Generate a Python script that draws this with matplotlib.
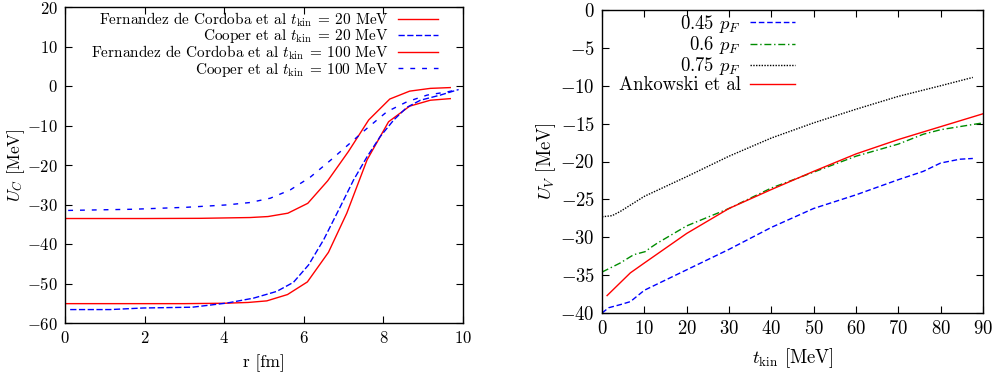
import matplotlib
matplotlib.use("Agg")
import matplotlib.pyplot as plt

plt.rcParams['font.family'] = ['cmr10', 'DejaVu Serif']
plt.rcParams['mathtext.fontset'] = 'cm'
plt.rcParams['axes.formatter.use_mathtext'] = True
plt.rcParams['font.size'] = 12
plt.rcParams['axes.unicode_minus'] = True

# ---------------- Left panel data: U_C vs r ----------------
r_fdc20 = [0.0, 1.0, 2.0, 3.0, 4.0, 4.6, 5.07, 5.59, 6.09, 6.62, 7.08, 7.59, 8.13, 8.66, 9.18, 9.68]
u_fdc20 = [-55.1, -55.1, -55.1, -55.1, -55.0, -54.8, -54.4, -52.8, -49.6, -42.1, -32.2, -18.7, -9.05, -5.1, -3.6, -3.2]

r_coop20 = [0.13, 1.13, 1.97, 3.2, 4.07, 4.74, 5.32, 5.74, 6.12, 6.5, 6.92, 7.25, 7.59, 7.92, 8.26, 8.59, 8.93, 9.43, 9.89]
u_coop20 = [-56.6, -56.6, -56.2, -56.0, -54.95, -53.7, -52.0, -49.7, -45.3, -38.9, -30.5, -23.8, -17.9, -12.8, -8.6, -5.4, -3.6, -2.3, -0.9]

r_fdc100 = [0.0, 1.0, 2.0, 3.4, 4.65, 5.1, 5.6, 6.1, 6.6, 7.12, 7.63, 8.16, 8.66, 9.18, 9.68]
u_fdc100 = [-33.55, -33.55, -33.55, -33.5, -33.3, -33.05, -32.2, -29.7, -24.0, -16.6, -8.6, -3.3, -1.3, -0.6, -0.4]

r_coop100 = [0.08, 1.72, 3.06, 4.07, 4.65, 5.16, 5.66, 6.16, 6.66, 7.08, 7.59, 8.09, 8.59, 9.1, 9.6, 9.89]
u_coop100 = [-31.5, -31.2, -30.7, -30.1, -29.5, -28.4, -26.3, -23.1, -18.9, -15.2, -10.7, -6.5, -4.0, -2.3, -1.5, -0.9]

left_labels = [r'Fernandez de Cordoba et al $t_{\rm kin}\:=\:20$ MeV',
               r'Cooper et al $t_{\rm kin}\:=\:20$ MeV',
               r'Fernandez de Cordoba et al $t_{\rm kin}\:=\:100$ MeV',
               r'Cooper et al $t_{\rm kin}\:=\:100$ MeV']

# ---------------- Right panel data: U_V vs t_kin ----------------
t_045 = [0, 1.6, 4.3, 6.7, 10, 20, 30, 40, 50, 60, 70, 75.9, 80, 84.5, 87.6]
u_045 = [-40.0, -39.3, -38.9, -38.5, -37.0, -34.3, -31.6, -28.7, -26.2, -24.4, -22.4, -21.3, -20.2, -19.7, -19.6]

t_06 = [0, 4.3, 7.5, 10.2, 11.4, 13, 20, 30, 40, 50, 60, 70, 75.9, 80, 90]
u_06 = [-34.6, -33.4, -32.3, -31.9, -31.4, -30.8, -28.5, -26.2, -23.5, -21.4, -19.3, -17.7, -16.4, -15.8, -14.9]

t_075 = [0, 2.4, 4.3, 10, 20, 30, 40, 50, 60, 70, 80, 87.6]
u_075 = [-27.3, -27.15, -26.6, -24.6, -22.0, -19.3, -16.9, -14.9, -13.1, -11.4, -10.0, -8.9]

t_ank = [1.2, 6.7, 10, 20, 30, 40, 50, 60, 70, 80, 90]
u_ank = [-37.7, -34.7, -33.4, -29.5, -26.2, -23.7, -21.3, -19.0, -17.1, -15.4, -13.7]

right_labels = [r'0.45 $p_F$', r'0.6 $p_F$', r'0.75 $p_F$', 'Ankowski et al']

red = '#ff0000'
blue = '#0000ff'
green = '#008c00'

fig = plt.figure(figsize=(9.95, 3.76), dpi=100)
ax1 = fig.add_axes([65/995, 1 - 323/376, 398/995, 316/376])
ax2 = fig.add_axes([602/995, 1 - 313/376, 381/995, 303/376])

lw = 1.0
ax1.plot(r_fdc20, u_fdc20, color=red, lw=lw, label=left_labels[0])
ax1.plot(r_coop20, u_coop20, color=blue, lw=lw, dashes=(4.5, 1.8), label=left_labels[1])
ax1.plot(r_fdc100, u_fdc100, color=red, lw=lw, label=left_labels[2])
ax1.plot(r_coop100, u_coop100, color=blue, lw=lw, dashes=(3.5, 5.0), label=left_labels[3])
ax1.set_xlim(0, 10)
ax1.set_ylim(-60, 20)
ax1.set_xticks(range(0, 11, 2))
ax1.set_yticks(range(-60, 21, 10))
ax1.set_xlabel('r [fm]', fontsize=12.5)
ax1.set_ylabel(r'$U_C$ [MeV]', fontsize=12.5)
ax1.xaxis.set_label_coords(0.5, -0.127, transform=ax1.transAxes)
ax1.yaxis.set_label_coords(-0.122, 0.5, transform=ax1.transAxes)
ax1.xaxis.label.set_va('center')
ax1.yaxis.label.set_va('center')

ax2.plot(t_045, u_045, color=blue, lw=lw, dashes=(4, 2), label=right_labels[0])
ax2.plot(t_06, u_06, color=green, lw=lw, dashes=(5, 2, 1, 2), label=right_labels[1])
ax2.plot(t_075, u_075, color='black', lw=lw, dashes=(1, 1), label=right_labels[2])
ax2.plot(t_ank, u_ank, color=red, lw=lw, label=right_labels[3])
ax2.set_xlim(0, 90)
ax2.set_ylim(-40, 0)
ax2.set_xticks(range(0, 91, 10))
ax2.set_yticks(range(-40, 1, 5))
ax2.set_xlabel(r'$t_{\rm kin}$ [MeV]', fontsize=13.5)
ax2.set_ylabel(r'$U_V$ [MeV]', fontsize=13.5)
ax2.xaxis.set_label_coords(0.5, -0.15, transform=ax2.transAxes)
ax2.yaxis.set_label_coords(-0.147, 0.5, transform=ax2.transAxes)
ax2.xaxis.label.set_va('center')
ax2.yaxis.label.set_va('center')

ax1.tick_params(direction='in', top=True, right=True, length=5, width=0.8,
                labelsize=12, pad=5)
ax2.tick_params(direction='in', top=True, right=True, length=5, width=0.8,
                labelsize=13.5, pad=5)
for ax in (ax1, ax2):
    for s in ax.spines.values():
        s.set_linewidth(1.0)

leg1 = ax1.legend(loc='upper right', bbox_to_anchor=(0.937, 0.99), frameon=False,
                  markerfirst=False, handlelength=2.6, handletextpad=0.6,
                  labelspacing=-0.1, borderaxespad=0.0, borderpad=0.0,
                  fontsize=11)
leg2 = ax2.legend(loc='upper right', bbox_to_anchor=(0.507, 0.99), frameon=False,
                  markerfirst=False, handlelength=2.4, handletextpad=0.5,
                  labelspacing=-0.05, borderaxespad=0.0, borderpad=0.0,
                  fontsize=13.5)

fig.savefig('out.png', dpi=100)
